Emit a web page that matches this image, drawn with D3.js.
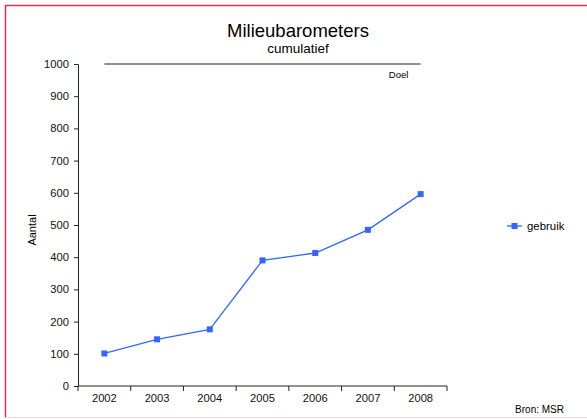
<!DOCTYPE html>
<html>
<head>
<meta charset="utf-8">
<script src="https://cdn.jsdelivr.net/npm/d3@7"></script>
<style>
  body { margin: 0; background: #fff; }
  svg { display: block; font-family: "Liberation Sans", Arial, sans-serif; }
  .axis path, .axis line { stroke: #222; }
  .axis text { font-size: 11.2px; fill: #111; }
</style>
</head>
<body>
<svg id="chart" width="587" height="419"></svg>
<script>
var years = ['2002', '2003', '2004', '2005', '2006', '2007', '2008']
var gebruik = [101, 145, 176, 390, 413, 485, 596]
var doel = [1000, 1000, 1000, 1000, 1000, 1000, 1000]
var yTicks = [0, 100, 200, 300, 400, 500, 600, 700, 800, 900, 1000]

var svg = d3.select('#chart')
var blue = '#3366ff'

// frame
svg.append('line').attr('x1', 5).attr('x2', 587).attr('y1', 5.5).attr('y2', 5.5)
    .attr('stroke', '#e0304a').attr('stroke-width', 1.5)
svg.append('line').attr('x1', 5.5).attr('x2', 5.5).attr('y1', 5).attr('y2', 418)
    .attr('stroke', '#e0304a').attr('stroke-width', 1.5)
svg.append('line').attr('x1', 5).attr('x2', 587).attr('y1', 417.5).attr('y2', 417.5)
    .attr('stroke', '#f4d6da').attr('stroke-width', 1)

var margin = {top: 64, left: 78, width: 369, height: 322}

var g = svg.append('g').attr('transform', 'translate(' + margin.left + ',' + margin.top + ')')

var x = d3.scaleBand().domain(years).range([0, margin.width])
var y = d3.scaleLinear().domain([0, 1000]).range([margin.height, 0])
var cx = function(d, i) { return x(years[i]) + x.bandwidth() / 2 }

// X axis with ticks on band boundaries
var xAxis = g.append('g')
    .attr('class', 'axis')
    .attr('transform', 'translate(0,' + margin.height + ')')
    .call(d3.axisBottom(x).tickSize(0).tickPadding(8))
xAxis.select('.domain').attr('d', 'M0,0H' + margin.width)
var bounds = years.map(function(d) { return x(d) }).concat([margin.width])
xAxis.selectAll('.bound')
    .data(bounds)
    .enter().append('line')
    .attr('class', 'bound')
    .attr('x1', function(d) { return d }).attr('x2', function(d) { return d })
    .attr('y1', 0).attr('y2', 5)

// Y axis
g.append('g')
    .attr('class', 'axis')
    .call(d3.axisLeft(y).tickValues(yTicks).tickFormat(d3.format('d'))
        .tickSize(4).tickSizeOuter(0).tickPadding(5))

// target line
var line = d3.line().x(cx).y(function(d) { return y(d) })
g.append('path')
    .datum(doel)
    .attr('fill', 'none')
    .attr('stroke', '#222')
    .attr('stroke-width', 1)
    .attr('d', line)
g.selectAll('.doel-mark')
    .data(doel.slice(1, -1))
    .enter().append('line')
    .attr('class', 'doel-mark')
    .attr('x1', function(d, i) { return cx(d, i + 1) })
    .attr('x2', function(d, i) { return cx(d, i + 1) })
    .attr('y1', function(d) { return y(d) - 0.5 })
    .attr('y2', function(d) { return y(d) + 1 })
    .attr('stroke', '#888')
g.append('text')
    .attr('x', cx(0, 6) - 22)
    .attr('y', y(1000) + 14)
    .attr('text-anchor', 'middle')
    .style('font-size', '9.5px')
    .text('Doel')

// gebruik series
g.append('path')
    .datum(gebruik)
    .attr('fill', 'none')
    .attr('stroke', blue)
    .attr('stroke-width', 1.3)
    .attr('d', line)
g.selectAll('.mark')
    .data(gebruik)
    .enter().append('rect')
    .attr('class', 'mark')
    .attr('x', function(d, i) { return cx(d, i) - 3 })
    .attr('y', function(d) { return y(d) - 3 })
    .attr('width', 6).attr('height', 6)
    .attr('fill', blue)

// titles
svg.append('text')
    .attr('x', 298).attr('y', 37)
    .attr('text-anchor', 'middle')
    .style('font-size', '18.5px')
    .text('Milieubarometers')
svg.append('text')
    .attr('x', 298).attr('y', 53)
    .attr('text-anchor', 'middle')
    .style('font-size', '13.5px')
    .text('cumulatief')

// y label
svg.append('text')
    .attr('transform', 'translate(36,230) rotate(-90)')
    .attr('text-anchor', 'middle')
    .style('font-size', '11px')
    .text('Aantal')

// legend
var legend = svg.append('g').attr('transform', 'translate(507,226)')
legend.append('line').attr('x1', 0).attr('x2', 15).attr('stroke', blue).attr('stroke-width', 1.3)
legend.append('rect').attr('x', 4.5).attr('y', -3).attr('width', 6).attr('height', 6).attr('fill', blue)
legend.append('text').attr('x', 20).attr('y', 4).style('font-size', '11.4px').text('gebruik')

// source
svg.append('text')
    .attr('x', 564).attr('y', 413)
    .attr('text-anchor', 'end')
    .style('font-size', '10px')
    .text('Bron: MSR')
</script>
</body>
</html>
